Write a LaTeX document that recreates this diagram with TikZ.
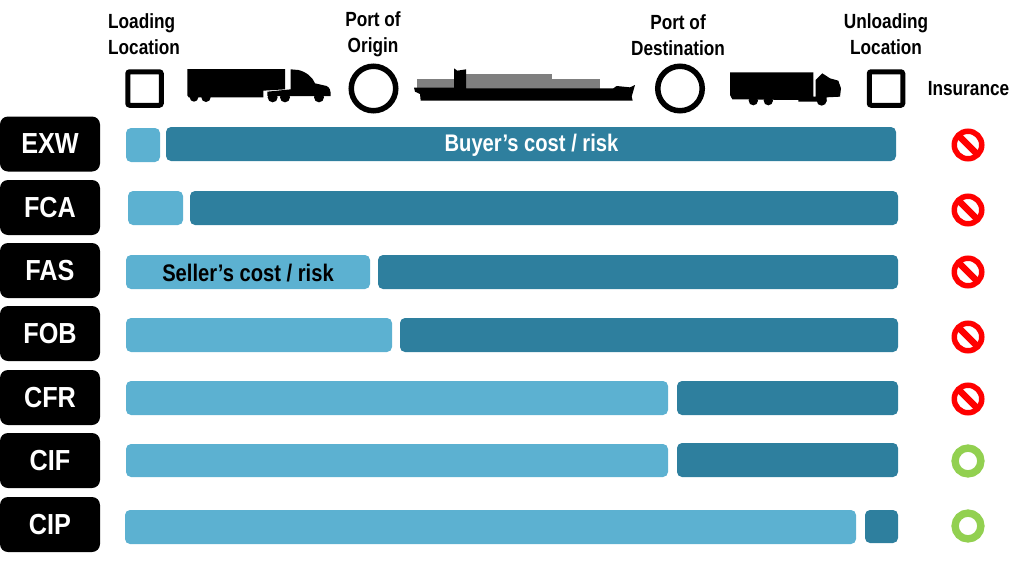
\documentclass[tikz,border=0pt]{standalone}
\usepackage{fontspec}
\setmainfont[FakeStretch=0.84]{Liberation Sans}
\newfontfamily\codefont[FakeStretch=0.87]{Liberation Sans}
\definecolor{lightbar}{HTML}{5CB1D1}
\definecolor{darkbar}{HTML}{2E7F9E}
\definecolor{nored}{HTML}{FF0000}
\definecolor{okgreen}{HTML}{92D050}
\definecolor{cargo}{HTML}{7F7F7F}
\tikzset{
  box/.style={rectangle,inner sep=0pt,outer sep=0pt,rounded corners=5pt},
  codebox/.style={box,fill=black,rounded corners=8pt,minimum width=100pt,minimum height=55pt,
    text=white,font=\fontsize{29}{30}\codefont\bfseries},
  head/.style={font=\fontsize{20.5}{26}\selectfont\bfseries,inner sep=0pt,align=center,text=black},
  barlabel/.style={font=\fontsize{24}{26}\selectfont\bfseries,inner sep=0pt},
  place/.style={box,draw=black,line width=5pt,fill=white,rounded corners=2pt,minimum width=33.5pt,minimum height=33.5pt},
  port/.style={circle,draw=black,line width=5.5pt,fill=white,inner sep=0pt,outer sep=0pt,minimum size=44.5pt},
  ringred/.style={circle,draw=nored,line width=5.5pt,fill=white,inner sep=0pt,outer sep=0pt,minimum size=27.5pt},
  ringgreen/.style={circle,draw=okgreen,line width=7.4pt,fill=white,inner sep=0pt,outer sep=0pt,minimum size=25.8pt},
}
% name, x1, y1, x2, y2, colour
\newcommand\costbar[6]{%
  \pgfmathsetlengthmacro\barw{(#4)-(#2)}%
  \pgfmathsetlengthmacro\barh{(#5)-(#3)}%
  \node[box,fill=#6,minimum width=\barw,minimum height=\barh] (#1) at ({(#2+#4)/2},{(#3+#5)/2}) {};}
\newcommand\noins[2]{%
  \node[ringred] (#1) at #2 {};
  \draw[nored,line width=6.5pt] ([shift={(-10,-10)}]#1.center) -- ([shift={(10,10)}]#1.center);}
\begin{document}
\begin{tikzpicture}[x=1pt,y=-1pt]
\useasboundingbox (0,0) rectangle (1024,562);
% headings
\node[head,align=left,anchor=west] (h1) at (108,34) {Loading\\Location};
\node[head] (h2) at (373,34) {Port of\\Origin};
\node[head] (h3) at (678,35) {Port of\\Destination};
\node[head] (h4) at (886,34) {Unloading\\Location};
\node[head,font=\fontsize{20.5}{24}\selectfont\bfseries] (h5) at (968.5,89) {Insurance};
% location symbols
\node[place] (p1) at (144.5,88.5) {};
\node[port] (p2) at (373.5,88.5) {};
\node[port] (p3) at (680,88.5) {};
\node[place] (p4) at (886,88.5) {};
% truck 1
\begin{scope}[x=0.33333pt,y=-0.33333pt,shift={(540,180)}]
\fill[black] (22,27) -- (315,27) -- (315,88) -- (250,92) -- (250,112) -- (26,112) -- (22,106) -- cycle;
\fill[black] (42,112) circle[radius=13] (78,112) circle[radius=14];
\fill[black] (332,28) -- (355,30) .. controls (380,36) and (398,52) .. (405,70)
  -- (440,78) .. controls (450,84) and (452,90) .. (452,108) -- (262,108) -- (262,95) -- (332,88) -- cycle;
\fill[black] (278,112) circle[radius=15] (315,112) circle[radius=15] (417,112) circle[radius=15];
\end{scope}
% ship
\begin{scope}[x=0.33333pt,y=-0.33333pt,shift={(1200,0)}]
\fill[cargo] (52,237) rectangle (170,268);
\fill[cargo] (195,223) rectangle (457,268);
\fill[cargo] (457,238) rectangle (600,268);
\fill[black] (42,263) -- (162,263) -- (162,205) -- (172,212) -- (198,208) -- (198,265) -- (640,265)
  -- (650,258) -- (690,262) -- (705,255) -- (695,290) -- (698,302) -- (62,302) -- (60,282) -- (45,275) -- cycle;
\end{scope}
% truck 2
\begin{scope}[x=0.33333pt,y=-0.33333pt,shift={(2175,180)}]
\fill[black] (15,37) -- (265,37) -- (265,110) -- (272,110) -- (272,60) -- (292,40) -- (315,55)
  -- (340,62) -- (348,85) -- (345,110) -- (305,112) -- (305,125) -- (220,125) -- (220,120) -- (22,118) -- (15,105) -- cycle;
\fill[black] (85,122) circle[radius=14] (130,122) circle[radius=14] (290,122) circle[radius=15];
\end{scope}
% term labels
\node[codebox] (exw) at (50,144) {EXW};
\node[codebox] (fca) at (50,207.5) {FCA};
\node[codebox] (fas) at (50,270.5) {FAS};
\node[codebox] (fob) at (50,333.5) {FOB};
\node[codebox] (cfr) at (50,397.5) {CFR};
\node[codebox] (cif) at (50,460.5) {CIF};
\node[codebox] (cip) at (50,524.5) {CIP};
% bars
\costbar{s1}{126}{128}{160}{162}{lightbar}
\costbar{b1}{166}{127}{896}{161}{darkbar}
\costbar{s2}{128}{191}{183}{225}{lightbar}
\costbar{b2}{190}{191}{898}{225}{darkbar}
\costbar{s3}{126}{255}{370}{289}{lightbar}
\costbar{b3}{378}{255}{898}{289}{darkbar}
\costbar{s4}{126}{318}{392}{352}{lightbar}
\costbar{b4}{400}{318}{898}{352}{darkbar}
\costbar{s5}{126}{381}{668}{415}{lightbar}
\costbar{b5}{677}{381}{898}{415}{darkbar}
\costbar{s6}{126}{444}{668}{477}{lightbar}
\costbar{b6}{677}{443}{898}{477}{darkbar}
\costbar{s7}{125}{510}{856}{544}{lightbar}
\costbar{b7}{865}{510}{898}{543}{darkbar}
\node[barlabel,text=white] (buyer) at (531.5,145.5) {Buyer’s cost / risk};
\node[barlabel,text=black] (seller) at (248,273) {Seller’s cost / risk};
% insurance
\noins{i1}{(968,145)}
\noins{i2}{(968,210)}
\noins{i3}{(968,272)}
\noins{i4}{(968,337)}
\noins{i5}{(968,399)}
\node[ringgreen] (i6) at (968,461) {};
\node[ringgreen] (i7) at (968,526) {};
\end{tikzpicture}
\end{document}
